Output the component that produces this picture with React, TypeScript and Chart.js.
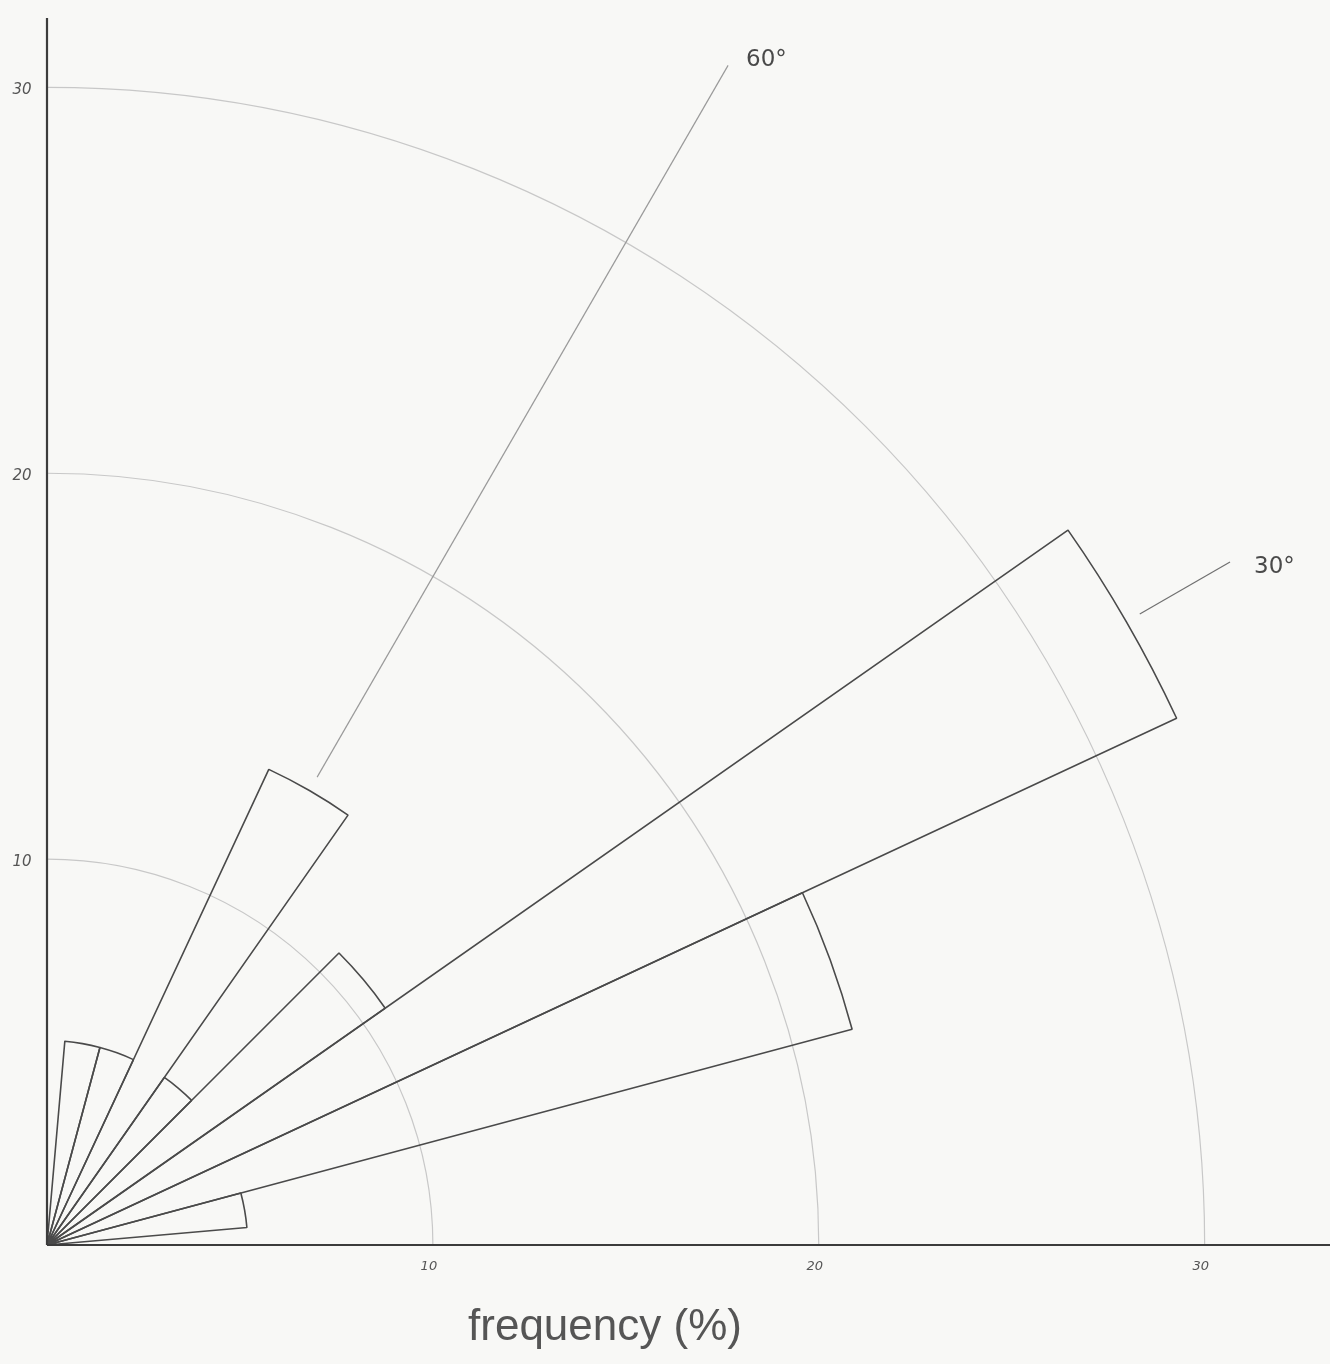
import React, { useEffect, useRef } from "react";
import { Chart, registerables } from "chart.js";

Chart.register(...registerables);

// Bin centres (degrees, counter-clockwise from the x axis), 10° wide bins
const binCentres = [10, 20, 30, 40, 50, 60, 70, 80];
// Frequency (%) of each bin
const frequencies = [5.2, 21.6, 32.3, 10.7, 5.3, 13.6, 5.3, 5.3];
// Radial tick labels
const tickValues = [10, 20, 30];
// Direction markers
const markerAngles = [30, 60];
const markerLabels = ["30°", "60°"];

const BIN_WIDTH = 10;
const R_MAX = 34;
const SIZE = 2624;
const ORIGIN_X = 47;
const ORIGIN_Y = 1245;

export default function App() {
  const canvasRef = useRef<HTMLCanvasElement | null>(null);

  useEffect(() => {
    if (!canvasRef.current) return;
    const slots = 360 / BIN_WIDTH;
    const startAngle = 90 - binCentres[binCentres.length - 1] - BIN_WIDTH / 2;
    const labels: string[] = [];
    const values: number[] = [];
    for (let i = 0; i < slots; i++) {
      const centre = (((90 - startAngle - BIN_WIDTH / 2 - BIN_WIDTH * i) % 360) + 360) % 360;
      labels.push(centre + "°");
      const k = binCentres.indexOf(centre);
      values.push(k >= 0 ? frequencies[k] : 0);
    }

    const overlay = {
      id: "roseOverlay",
      beforeDraw(chart: any) {
        // keep the rings inside the first quadrant
        const scale = chart.scales.r;
        const ctx = chart.ctx;
        ctx.save();
        ctx.beginPath();
        ctx.rect(scale.xCenter, 0, chart.width - scale.xCenter, scale.yCenter);
        ctx.clip();
      },
      beforeDatasetsDraw(chart: any) {
        chart.ctx.restore();
      },
      afterDraw(chart: any) {
        const scale = chart.scales.r;
        const ctx = chart.ctx;
        const xc = scale.xCenter;
        const yc = scale.yCenter;
        const px = (v: number) => scale.getDistanceFromCenterForValue(v);
        const pos = (deg: number, v: number) => {
          const rad = (deg * Math.PI) / 180;
          const d = px(v);
          return { x: xc + Math.cos(rad) * d, y: yc - Math.sin(rad) * d };
        };
        ctx.save();
        // axes
        ctx.strokeStyle = "#3c3c3c";
        ctx.lineWidth = 2.2;
        ctx.beginPath();
        ctx.moveTo(xc, yc);
        ctx.lineTo(xc + px(R_MAX), yc);
        ctx.moveTo(xc, yc);
        ctx.lineTo(xc, yc - px(31.8));
        ctx.stroke();
        // tick labels
        ctx.fillStyle = "#555";
        ctx.textAlign = "center";
        ctx.textBaseline = "middle";
        tickValues.forEach((v) => {
          const d = px(v);
          ctx.font = "italic 13px 'DejaVu Sans'";
          ctx.fillText(String(v), xc + d - 4, yc + 22);
          ctx.font = "italic 15px 'DejaVu Sans'";
          ctx.fillText(String(v), xc - 25, yc - d + 3);
        });
        // direction markers
        const ranges = [
          [32.7, 35.4],
          [14.0, 35.3],
        ];
        const colors = ["#707070", "#9a9a9a"];
        markerAngles.forEach((a, i) => {
          const p0 = pos(a, ranges[i][0]);
          const p1 = pos(a, ranges[i][1]);
          ctx.strokeStyle = colors[i];
          ctx.lineWidth = 1.2;
          ctx.beginPath();
          ctx.moveTo(p0.x, p0.y);
          ctx.lineTo(p1.x, p1.y);
          ctx.stroke();
          ctx.fillStyle = "#4a4a4a";
          ctx.font = "23px 'DejaVu Sans'";
          ctx.textAlign = "left";
          ctx.textBaseline = "middle";
          if (i === 0) ctx.fillText(markerLabels[i], p1.x + 24, p1.y + 5);
          else ctx.fillText(markerLabels[i], p1.x + 18, p1.y - 5);
        });
        ctx.restore();
      },
    };

    const chart = new Chart(canvasRef.current, {
      type: "polarArea",
      data: {
        labels,
        datasets: [
          {
            data: values,
            backgroundColor: "rgba(0,0,0,0)",
            borderColor: "#4a4a4a",
            borderWidth: (c: any) => (c.raw > 0 ? 1.6 : 0),
          },
        ],
      },
      options: {
        responsive: false,
        animation: false,
        layout: { padding: 0 },
        plugins: { legend: { display: false }, tooltip: { enabled: false } },
        scales: {
          r: {
            min: 0,
            max: R_MAX,
            startAngle,
            ticks: { display: false, stepSize: 10 },
            grid: {
              circular: true,
              lineWidth: 1.2,
              color: (c: any) =>
                c.tick && c.tick.value % 10 === 0 ? "#c8c8c8" : "rgba(0,0,0,0)",
            },
            angleLines: { display: false },
            pointLabels: { display: false },
          },
        },
      } as any,
      plugins: [overlay],
    });
    return () => chart.destroy();
  }, []);

  return (
    <div
      style={{
        position: "absolute",
        left: 0,
        top: 0,
        width: 1330,
        height: 1364,
        overflow: "hidden",
        background: "#f8f8f6",
      }}
    >
      <div
        style={{
          position: "absolute",
          left: ORIGIN_X - SIZE / 2,
          top: ORIGIN_Y - SIZE / 2,
          width: SIZE,
          height: SIZE,
        }}
      >
        <canvas ref={canvasRef} width={SIZE} height={SIZE} style={{ width: SIZE, height: SIZE }} />
      </div>
      <div
        style={{
          position: "absolute",
          left: 605,
          top: 1300,
          transform: "translateX(-50%)",
          font: "44px 'Liberation Sans', sans-serif",
          color: "#555",
          whiteSpace: "nowrap",
        }}
      >
        frequency (%)
      </div>
    </div>
  );
}
